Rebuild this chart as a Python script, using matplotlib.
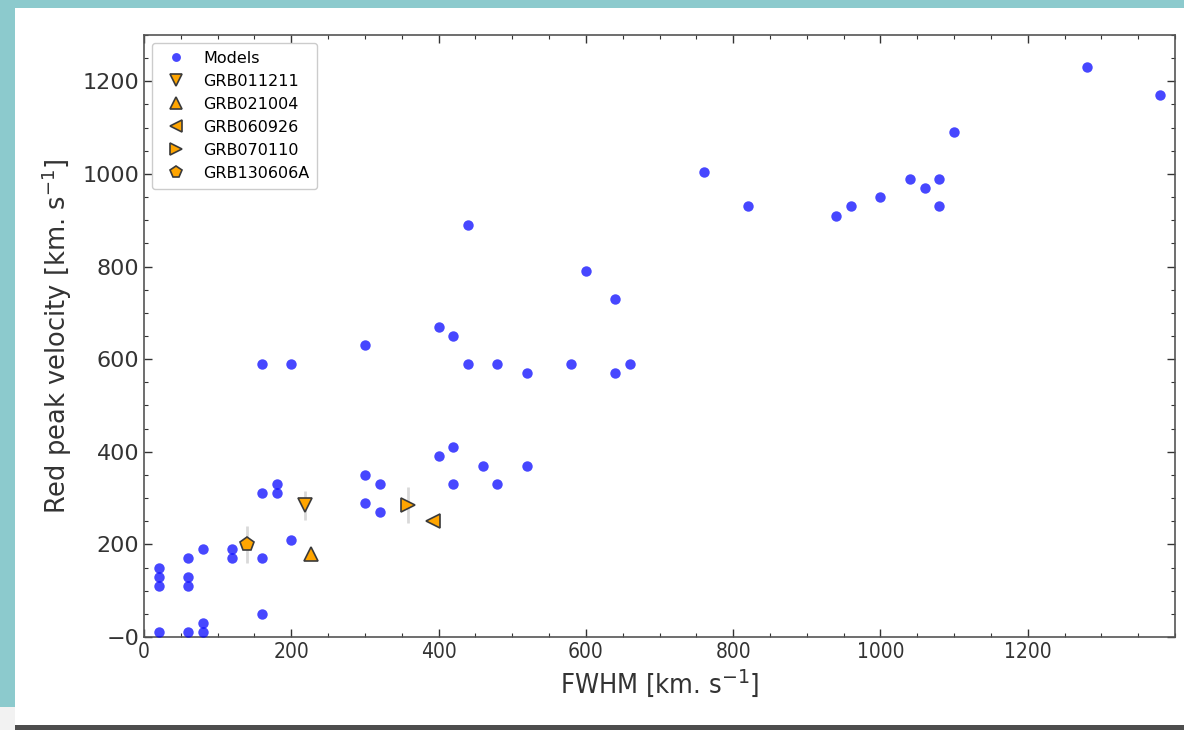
import matplotlib
matplotlib.use('Agg')
import matplotlib.pyplot as plt
from matplotlib import font_manager
from matplotlib.patches import Rectangle
from matplotlib.ticker import MultipleLocator, FixedLocator, FixedFormatter

# --- Configuration ---
OUTPUT_PNG_PATH = 'out.png'

# Model grid: FWHM vs. red peak velocity (km/s)
model_fwhm = [20, 20, 20, 20,
              60, 60, 60, 60,
              80, 80, 80,
              120, 120,
              160, 160, 160, 160,
              180, 180,
              200, 200,
              300, 300, 300,
              320, 320,
              400, 400,
              420, 420, 420,
              440, 440,
              460,
              480, 480,
              520, 520,
              580,
              600,
              640, 640,
              660,
              760, 820, 940, 960, 1000, 1040, 1060, 1080, 1080, 1100,
              1280, 1380]
model_red_peak = [150, 130, 110, 10,
                  170, 130, 110, 10,
                  190, 30, 10,
                  190, 170,
                  590, 310, 170, 50,
                  330, 310,
                  590, 210,
                  630, 350, 290,
                  330, 270,
                  670, 390,
                  650, 410, 330,
                  890, 590,
                  370,
                  590, 330,
                  570, 370,
                  590,
                  790,
                  730, 570,
                  590,
                  1005, 930, 910, 930, 950, 990, 970, 990, 930, 1090,
                  1230, 1170]

# Observed afterglows
grb_names = ['GRB011211', 'GRB021004', 'GRB060926', 'GRB070110', 'GRB130606A']
grb_markers = ['v', '^', '<', '>', 'p']
grb_fwhm = [218, 227, 392, 358, 140]
grb_red_peak = [284, 180, 251, 285, 200]
grb_red_peak_err = [32, 0, 0, 38, 40]

x_ticks = [0, 200, 400, 600, 800, 1000, 1200]
y_ticks = [0, 200, 400, 600, 800, 1000, 1200]
y_tick_labels = ['\u22120', '200', '400', '600', '800', '1000', '1200']


def find_condensed_font():
    """Returns FontProperties for a condensed sans face if one is installed."""
    for wanted in ('DejaVuSansCondensed.ttf', 'LiberationSansNarrow-Regular.ttf'):
        for entry in font_manager.fontManager.ttflist:
            fname = entry.fname.replace('\\', '/').split('/')[-1]
            if fname == wanted:
                return font_manager.FontProperties(fname=entry.fname)
    return font_manager.FontProperties(family='DejaVu Sans')


def draw_slide_background(fig):
    """Teal backdrop with a white card and a dark bottom edge."""
    fig.patch.set_facecolor('#8ccacd')
    W, H = 1184.0, 730.0
    pieces = [
        ((15 / W, 5 / H), 1 - 15 / W, (722 - 5) / H, 'white'),
        ((15 / W, 0), 1 - 15 / W, 5 / H, '#4d4d4d'),
        ((0, 0), 15 / W, 23 / H, '#f2f2f2'),
    ]
    for xy, w, h, color in pieces:
        fig.patches.append(Rectangle(xy, w, h, transform=fig.transFigure,
                                     facecolor=color, edgecolor='none',
                                     zorder=-10))


def main():
    plt.rcParams['font.family'] = ['DejaVu Sans']
    fig = plt.figure(figsize=(11.84, 7.30), dpi=100)
    draw_slide_background(fig)

    ax = fig.add_axes([144 / 1184, 93 / 730, 1031 / 1184, 602 / 730])
    ax.set_zorder(1)
    ax.set_facecolor('white')

    ax.plot(model_fwhm, model_red_peak, 'o', color='blue', alpha=0.72,
            markersize=7.5, markeredgewidth=0, label='Models', zorder=3)

    for name, mk, x, y, err in zip(grb_names, grb_markers, grb_fwhm,
                                   grb_red_peak, grb_red_peak_err):
        ax.errorbar(x, y, yerr=err, fmt='none', ecolor='#d9d9d9',
                    elinewidth=2, capsize=0, zorder=2)
        ax.plot(x, y, mk, color='orange', markeredgecolor='#3a3a3a',
                markeredgewidth=1.2, markersize=10, label=name, zorder=4)

    ax.set_xlim(0, 1400)
    ax.set_ylim(0, 1300)

    ax.xaxis.set_major_locator(FixedLocator(x_ticks))
    ax.xaxis.set_minor_locator(MultipleLocator(50))
    ax.yaxis.set_major_locator(FixedLocator(y_ticks))
    ax.yaxis.set_major_formatter(FixedFormatter(y_tick_labels))
    ax.yaxis.set_minor_locator(MultipleLocator(50))

    ax.tick_params(which='both', direction='in', top=True, right=True,
                   colors='#333333')
    ax.tick_params(which='major', length=6, width=1)
    ax.tick_params(which='minor', length=3, width=0.8)
    ax.tick_params(axis='y', labelsize=16, labelcolor='#333333')

    condensed = find_condensed_font()
    for lbl in ax.get_xticklabels():
        lbl.set_fontproperties(condensed)
        lbl.set_fontsize(15)
        lbl.set_color('#333333')

    for spine in ax.spines.values():
        spine.set_color('#555555')
        spine.set_linewidth(1.2)

    xlab_font = condensed.copy()
    xlab_font.set_size(19.5)
    ax.set_xlabel(r'FWHM [km. s$^{-1}$]', fontproperties=xlab_font,
                  color='#333333', labelpad=4)
    ax.set_ylabel(r'Red peak velocity [km. s$^{-1}$]', fontsize=18.5,
                  color='#333333', labelpad=6)

    ax.legend(loc='upper left', fontsize=11.5, labelspacing=0.5,
              borderpad=0.5, handletextpad=0.7, markerscale=0.85,
              framealpha=1, edgecolor='#cccccc')

    fig.savefig(OUTPUT_PNG_PATH, dpi=100, facecolor=fig.get_facecolor())
    plt.close(fig)


if __name__ == "__main__":
    main()
